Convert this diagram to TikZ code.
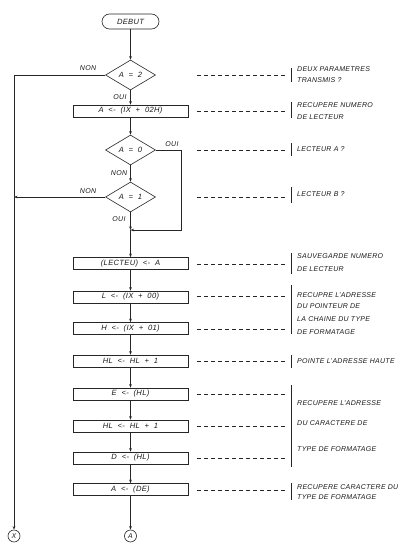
\documentclass[tikz,border=0pt]{standalone}
\usepackage{fontspec}
\setmainfont{Liberation Sans}[LetterSpace=4]
\newfontfamily\boxfont{Liberation Sans}[LetterSpace=4,WordSpace=2]
\usetikzlibrary{shapes.geometric,arrows.meta}
\begin{document}
\begin{tikzpicture}[x=1pt,y=-1pt,
  ink/.style={draw=black!85,line width=0.6pt},
  lbl/.style={font=\fontsize{7}{8}\selectfont\itshape,text=black!90,inner sep=0pt},
  blbl/.style={font=\boxfont\fontsize{7.6}{8}\selectfont\itshape,text=black!90,inner sep=0pt},
  term/.style={ink,blbl,rectangle,rounded corners=7.5pt,minimum width=57pt,minimum height=15pt},
  dec/.style={ink,blbl,diamond,aspect=1.7,minimum width=50pt,minimum height=30pt},
  stepbox/.style={ink,blbl,rectangle,minimum width=115pt,minimum height=12pt},
  conn/.style={ink,lbl,circle,minimum size=12pt},
  note/.style={lbl,anchor=west},
  arr/.style={ink,-{Stealth[length=3.5pt,width=2.6pt]}},
  lead/.style={draw=black!85,line width=0.6pt,dash pattern=on 4pt off 3pt},
  bar/.style={draw=black!85,line width=0.6pt}]
\useasboundingbox (0,0) rectangle (412,554);
% flow nodes
\node[term] (debut) at (130.5,21.5) {DEBUT};
\node[dec] (d2) at (130.5,75) {A = 2};
\node[stepbox] (b1) at (130.5,111) {A <- (IX + 02H)};
\node[dec] (d0) at (130.5,150) {A = 0};
\node[dec] (d1) at (130.5,197) {A = 1};
\coordinate (m) at (130.5,230);
\coordinate (rt) at (181,150);
\coordinate (rb) at (181,230);
\node[stepbox] (b2) at (130.5,263.5) {(LECTEU) <- A};
\node[stepbox] (b3) at (130.5,297) {L <- (IX + 00)};
\node[stepbox] (b4) at (130.5,328.5) {H <- (IX + 01)};
\node[stepbox] (b5) at (130.5,361) {HL <- HL + 1};
\node[stepbox] (b6) at (130.5,394) {E <- (HL)};
\node[stepbox] (b7) at (130.5,426) {HL <- HL + 1};
\node[stepbox] (b8) at (130.5,458) {D <- (HL)};
\node[stepbox] (b9) at (130.5,489.5) {A <- (DE)};
\node[conn] (ca) at (130.5,536) {A};
\node[conn] (cx) at (14,536) {X};
% branch labels
\node[lbl] (n1) at (88,68) {NON};
\node[lbl] (o1) at (120,97) {OUI};
\node[lbl] (o2) at (172,144) {OUI};
\node[lbl] (n2) at (119,173) {NON};
\node[lbl] (n3) at (88,191) {NON};
\node[lbl] (o3) at (119,219) {OUI};
% connectors
\draw[arr] (debut) -- (d2);
\draw[arr] (d2) -- (b1);
\draw[arr] (b1) -- (d0);
\draw[arr] (d0) -- (d1);
\draw[arr] (d1) -- (m);
\draw[arr] (d0.east) -- (rt) -- (rb) -- (m);
\draw[arr] (m) -- (b2);
\draw[arr] (b2) -- (b3);
\draw[arr] (b3) -- (b4);
\draw[arr] (b4) -- (b5);
\draw[arr] (b5) -- (b6);
\draw[arr] (b6) -- (b7);
\draw[arr] (b7) -- (b8);
\draw[arr] (b8) -- (b9);
\draw[arr] (b9) -- (ca);
\draw[arr] (d2.west) -| (cx);
\draw[arr] (d1.west) -- (d1.west -| cx);
% leaders
\foreach \y in {75,111,150,197,264,296,329,361,394,426,458,490}
  \draw[lead] (197,\y) -- (285,\y);
% bars
\draw[bar] (291,68) -- (291,82);
\draw[bar] (291,102) -- (291,118);
\draw[bar] (291,143) -- (291,156);
\draw[bar] (291,187) -- (291,203);
\draw[bar] (291,253) -- (291,274);
\draw[bar] (291,285) -- (291,334);
\draw[bar] (291,355) -- (291,368);
\draw[bar] (291,385) -- (291,467);
\draw[bar] (291,483) -- (291,500);
% notes
\node[note] at (297,69) {DEUX PARAMETRES};
\node[note] at (297,80) {TRANSMIS ?};
\node[note] at (297,105.5) {RECUPERE NUMERO};
\node[note] at (297,117) {DE LECTEUR};
\node[note] at (297,149) {LECTEUR A ?};
\node[note] at (297,194) {LECTEUR B ?};
\node[note] at (297,256) {SAUVEGARDE NUMERO};
\node[note] at (297,269) {DE LECTEUR};
\node[note] at (297,295) {RECUPRE L'ADRESSE};
\node[note] at (297,306.5) {DU POINTEUR DE};
\node[note] at (297,319) {LA CHAINE DU TYPE};
\node[note] at (297,332) {DE FORMATAGE};
\node[note] at (297,361) {POINTE L'ADRESSE HAUTE};
\node[note] at (297,403) {RECUPERE L'ADRESSE};
\node[note] at (297,423) {DU CARACTERE DE};
\node[note] at (297,449) {TYPE DE FORMATAGE};
\node[note] at (297,487) {RECUPERE CARACTERE DU};
\node[note] at (297,497.5) {TYPE DE FORMATAGE};
\end{tikzpicture}
\end{document}
